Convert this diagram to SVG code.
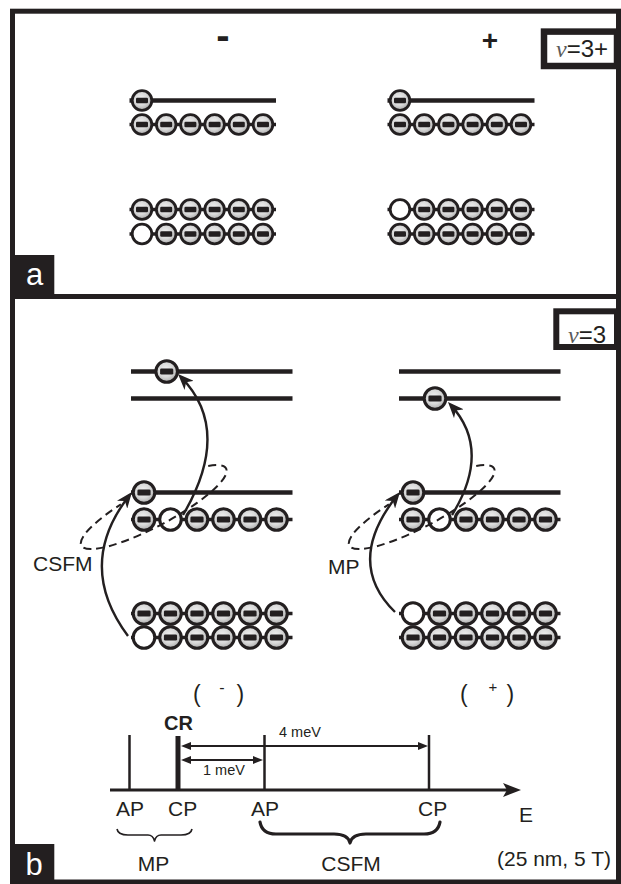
<svg xmlns="http://www.w3.org/2000/svg" width="621" height="884" viewBox="0 0 621 884">
  <style>
    .ink { stroke: #231f20; fill: none; }
    .lvl { stroke: #231f20; stroke-width: 4.6; }
    .row { stroke: #231f20; stroke-width: 3.5; }
    .tick { stroke: #231f20; stroke-width: 2.5; }
    .arc { stroke: #231f20; stroke-width: 2.4; fill: none; }
    .dash { stroke: #231f20; stroke-width: 2; fill: none; stroke-dasharray: 8 5; }
    text { font-family: "Liberation Sans", Arial, Helvetica, sans-serif; fill: #231f20; }
    .lab { font-size: 21px; }
    .small { font-size: 14.5px; }
    .nu { font-family: "Liberation Serif", "Times New Roman", serif; font-style: italic; fill: #5a5a5a; }
    .tag { font-size: 31px; fill: #ffffff; }
  </style>
  <defs>
    <radialGradient id="shade" cx="0.45" cy="0.42" r="0.62">
      <stop offset="0" stop-color="#f2f2f2"/>
      <stop offset="0.55" stop-color="#d8d8d8"/>
      <stop offset="1" stop-color="#a4a4a4"/>
    </radialGradient>
    <!-- filled state: shaded circle with a minus bar -->
    <g id="el">
      <circle r="9.8" fill="url(#shade)" stroke="#231f20" stroke-width="2.8"/>
      <rect x="-6" y="-2.8" width="12" height="5.6" rx="1.3" fill="#231f20"/>
    </g>
    <!-- empty state -->
    <circle id="hole" r="9.8" fill="#ffffff" stroke="#231f20" stroke-width="2.8"/>
    <marker id="head" markerUnits="userSpaceOnUse" viewBox="0 0 16 13" markerWidth="16" markerHeight="13" refX="12" refY="6.5" orient="auto">
      <path d="M16,6.5 L0,0 L4.5,6.5 L0,13 Z" fill="#231f20"/>
    </marker>
    <marker id="tri" markerUnits="userSpaceOnUse" viewBox="0 0 10 8" markerWidth="10" markerHeight="8" refX="6" refY="4" orient="auto-start-reverse">
      <path d="M10,4 L0,0 L0,8 Z" fill="#231f20"/>
    </marker>
  </defs>

  <rect width="621" height="884" fill="#ffffff"/>

  <!-- outer frame and panel divider -->
  <g id="frame">
    <rect x="12.5" y="11.2" width="606" height="870.8" class="ink" stroke-width="5"/>
    <line x1="12.5" y1="296.5" x2="618.5" y2="296.5" class="ink" stroke-width="5"/>
    <rect x="10" y="255" width="44.3" height="42" fill="#231f20"/>
    <text x="34.5" y="284.5" class="tag" text-anchor="middle">a</text>
    <rect x="10" y="844" width="44.3" height="38" fill="#231f20"/>
    <text x="34" y="875" class="tag" text-anchor="middle">b</text>
  </g>

  <!-- panel a: filling factor tag and column signs -->
  <g id="tag-a">
    <rect x="544" y="31.6" width="73" height="34.4" class="ink" stroke-width="6.5"/>
    <text x="582" y="56.5" font-size="24" text-anchor="middle"><tspan class="nu">ν</tspan>=3+</text>
  </g>
  <g id="sign-minus">
    <text x="223" y="48.5" font-size="40" font-weight="bold" text-anchor="middle">-</text>
  </g>
  <g id="sign-plus">
    <text x="490" y="50" font-size="28" font-weight="bold" text-anchor="middle">+</text>
  </g>

  <!-- panel a, left column -->
  <g id="a-minus">
    <line x1="129.5" y1="100.5" x2="276" y2="100.5" class="lvl"/>
    <use href="#el" x="142" y="100.5"/>
    <line x1="129.5" y1="124.5" x2="276" y2="124.5" class="row"/>
    <use href="#el" x="142" y="124.5"/><use href="#el" x="166.2" y="124.5"/><use href="#el" x="190.4" y="124.5"/>
    <use href="#el" x="214.6" y="124.5"/><use href="#el" x="238.8" y="124.5"/><use href="#el" x="263" y="124.5"/>
    <line x1="129.5" y1="209.5" x2="276" y2="209.5" class="row"/>
    <use href="#el" x="142" y="209.5"/><use href="#el" x="166.2" y="209.5"/><use href="#el" x="190.4" y="209.5"/>
    <use href="#el" x="214.6" y="209.5"/><use href="#el" x="238.8" y="209.5"/><use href="#el" x="263" y="209.5"/>
    <line x1="129.5" y1="234" x2="276" y2="234" class="row"/>
    <use href="#hole" x="142" y="234"/><use href="#el" x="166.2" y="234"/><use href="#el" x="190.4" y="234"/>
    <use href="#el" x="214.6" y="234"/><use href="#el" x="238.8" y="234"/><use href="#el" x="263" y="234"/>
  </g>

  <!-- panel a, right column -->
  <g id="a-plus">
    <line x1="387.5" y1="100.5" x2="534.5" y2="100.5" class="lvl"/>
    <use href="#el" x="400" y="100.5"/>
    <line x1="387.5" y1="124.5" x2="534.5" y2="124.5" class="row"/>
    <use href="#el" x="400" y="124.5"/><use href="#el" x="424.2" y="124.5"/><use href="#el" x="448.4" y="124.5"/>
    <use href="#el" x="472.6" y="124.5"/><use href="#el" x="496.8" y="124.5"/><use href="#el" x="521" y="124.5"/>
    <line x1="387.5" y1="209.5" x2="534.5" y2="209.5" class="row"/>
    <use href="#hole" x="400" y="209.5"/><use href="#el" x="424.2" y="209.5"/><use href="#el" x="448.4" y="209.5"/>
    <use href="#el" x="472.6" y="209.5"/><use href="#el" x="496.8" y="209.5"/><use href="#el" x="521" y="209.5"/>
    <line x1="387.5" y1="234" x2="534.5" y2="234" class="row"/>
    <use href="#el" x="400" y="234"/><use href="#el" x="424.2" y="234"/><use href="#el" x="448.4" y="234"/>
    <use href="#el" x="472.6" y="234"/><use href="#el" x="496.8" y="234"/><use href="#el" x="521" y="234"/>
  </g>

  <!-- panel b: filling factor tag -->
  <g id="tag-b">
    <rect x="556.3" y="311.3" width="60.7" height="35.7" class="ink" stroke-width="6"/>
    <text x="587" y="343" font-size="24" text-anchor="middle"><tspan class="nu">ν</tspan>=3</text>
  </g>

  <!-- panel b, left column (larger symbols) -->
  <g id="b-minus">
    <line x1="131" y1="371.5" x2="292.5" y2="371.5" class="lvl"/>
    <line x1="131" y1="398.5" x2="292.5" y2="398.5" class="lvl"/>
    <line x1="131" y1="492.5" x2="292.5" y2="492.5" class="lvl"/>
    <line x1="131" y1="519.5" x2="292.5" y2="519.5" class="row"/>
    <line x1="131" y1="613.5" x2="292.5" y2="613.5" class="row"/>
    <line x1="131" y1="637.5" x2="292.5" y2="637.5" class="row"/>
    <use href="#el" transform="translate(166.7,371.5) scale(1.1)"/>
    <use href="#el" transform="translate(144,492.5) scale(1.1)"/>
    <use href="#el" transform="translate(144,519.5) scale(1.1)"/>
    <use href="#hole" transform="translate(170.5,519.5) scale(1.1)"/>
    <use href="#el" transform="translate(197,519.5) scale(1.1)"/>
    <use href="#el" transform="translate(223.5,519.5) scale(1.1)"/>
    <use href="#el" transform="translate(250,519.5) scale(1.1)"/>
    <use href="#el" transform="translate(276.5,519.5) scale(1.1)"/>
    <use href="#el" transform="translate(144,613.5) scale(1.1)"/>
    <use href="#el" transform="translate(170.5,613.5) scale(1.1)"/>
    <use href="#el" transform="translate(197,613.5) scale(1.1)"/>
    <use href="#el" transform="translate(223.5,613.5) scale(1.1)"/>
    <use href="#el" transform="translate(250,613.5) scale(1.1)"/>
    <use href="#el" transform="translate(276.5,613.5) scale(1.1)"/>
    <use href="#hole" transform="translate(144,637.5) scale(1.1)"/>
    <use href="#el" transform="translate(170.5,637.5) scale(1.1)"/>
    <use href="#el" transform="translate(197,637.5) scale(1.1)"/>
    <use href="#el" transform="translate(223.5,637.5) scale(1.1)"/>
    <use href="#el" transform="translate(250,637.5) scale(1.1)"/>
    <use href="#el" transform="translate(276.5,637.5) scale(1.1)"/>
    <text x="33" y="571" class="lab">CSFM</text>
  </g>

  <!-- panel b, right column -->
  <g id="b-plus">
    <line x1="399" y1="371.5" x2="560.5" y2="371.5" class="lvl"/>
    <line x1="399" y1="398.5" x2="560.5" y2="398.5" class="lvl"/>
    <line x1="399" y1="492.5" x2="560.5" y2="492.5" class="lvl"/>
    <line x1="399" y1="519.5" x2="560.5" y2="519.5" class="row"/>
    <line x1="399" y1="613.5" x2="560.5" y2="613.5" class="row"/>
    <line x1="399" y1="637.5" x2="560.5" y2="637.5" class="row"/>
    <use href="#el" transform="translate(435,398.5) scale(1.1)"/>
    <use href="#el" transform="translate(413,492.5) scale(1.1)"/>
    <use href="#el" transform="translate(413,519.5) scale(1.1)"/>
    <use href="#hole" transform="translate(439.5,519.5) scale(1.1)"/>
    <use href="#el" transform="translate(466,519.5) scale(1.1)"/>
    <use href="#el" transform="translate(492.5,519.5) scale(1.1)"/>
    <use href="#el" transform="translate(519,519.5) scale(1.1)"/>
    <use href="#el" transform="translate(545.5,519.5) scale(1.1)"/>
    <use href="#hole" transform="translate(413,613.5) scale(1.1)"/>
    <use href="#el" transform="translate(439.5,613.5) scale(1.1)"/>
    <use href="#el" transform="translate(466,613.5) scale(1.1)"/>
    <use href="#el" transform="translate(492.5,613.5) scale(1.1)"/>
    <use href="#el" transform="translate(519,613.5) scale(1.1)"/>
    <use href="#el" transform="translate(545.5,613.5) scale(1.1)"/>
    <use href="#el" transform="translate(413,637.5) scale(1.1)"/>
    <use href="#el" transform="translate(439.5,637.5) scale(1.1)"/>
    <use href="#el" transform="translate(466,637.5) scale(1.1)"/>
    <use href="#el" transform="translate(492.5,637.5) scale(1.1)"/>
    <use href="#el" transform="translate(519,637.5) scale(1.1)"/>
    <use href="#el" transform="translate(545.5,637.5) scale(1.1)"/>
    <text x="328" y="574" class="lab">MP</text>
  </g>

  <!-- transitions and pairing outlines -->
  <g id="connectors">
    <path d="M208.2,465.9 A82,19 -28 1 1 120.9,504.3" class="dash"/>
    <path d="M476.2,465.9 A82,19 -28 1 1 388.9,504.3" class="dash"/>
    <path d="M128,636 Q75,565 129.5,495.2" class="arc" marker-end="url(#head)"/>
    <path d="M183,515 Q233,430 180.8,376.9" class="arc" marker-end="url(#head)"/>
    <path d="M395,612 Q344,562 397.5,495.1" class="arc" marker-end="url(#head)"/>
    <path d="M452,515 Q492,450 450.7,404.9" class="arc" marker-end="url(#head)"/>
  </g>

  <!-- polarisation labels -->
  <g id="pol-minus">
    <text x="193" y="702" font-size="23">(</text>
    <text x="222" y="693" font-size="16" text-anchor="middle">-</text>
    <text x="236.5" y="702" font-size="23">)</text>
  </g>
  <g id="pol-plus">
    <text x="460" y="702" font-size="23">(</text>
    <text x="493" y="691.5" font-size="15" text-anchor="middle">+</text>
    <text x="506.5" y="702" font-size="23">)</text>
  </g>

  <!-- energy axis with line positions -->
  <g id="energy-axis">
    <line x1="110" y1="790" x2="507" y2="790" class="ink" stroke-width="2.8"/>
    <path d="M521,790 L503,783 L507,790 L503,797 Z" fill="#231f20"/>
    <line x1="129.5" y1="735" x2="129.5" y2="790" class="tick"/>
    <line x1="178" y1="736" x2="178" y2="791" class="ink" stroke-width="5"/>
    <line x1="264.5" y1="735" x2="264.5" y2="790" class="tick"/>
    <line x1="429" y1="735" x2="429" y2="790" class="tick"/>
    <line x1="185" y1="746" x2="424" y2="746" class="ink" stroke-width="2" marker-start="url(#tri)" marker-end="url(#tri)"/>
    <line x1="185" y1="760" x2="259" y2="760" class="ink" stroke-width="2" marker-start="url(#tri)" marker-end="url(#tri)"/>
    <text x="178.5" y="730" font-size="20" font-weight="bold" text-anchor="middle">CR</text>
    <text x="300" y="737" class="small" text-anchor="middle">4 meV</text>
    <text x="224" y="775" class="small" text-anchor="middle">1 meV</text>
    <text x="116" y="816" class="lab">AP</text>
    <text x="168" y="816" class="lab">CP</text>
    <text x="251" y="816" class="lab">AP</text>
    <text x="418" y="816" class="lab">CP</text>
    <text x="519" y="822" class="lab">E</text>
    <path d="M117,829 Q118,835 128,835 L148,835 Q153,835 154.5,841 Q156,835 161,835 L181,835 Q191,835 192,829" class="ink" stroke-width="1.6" stroke-linejoin="round"/>
    <path d="M260,822 Q262,834 276,834 L334,834 Q348,834 350,843 Q352,834 366,834 L424,834 Q438,834 440,822" class="ink" stroke-width="3.2" stroke-linejoin="round" stroke-linecap="round"/>
    <text x="153.5" y="871" class="lab" text-anchor="middle">MP</text>
    <text x="351" y="871" class="lab" text-anchor="middle">CSFM</text>
    <text x="497" y="866" class="lab">(25 nm, 5 T)</text>
  </g>
</svg>
